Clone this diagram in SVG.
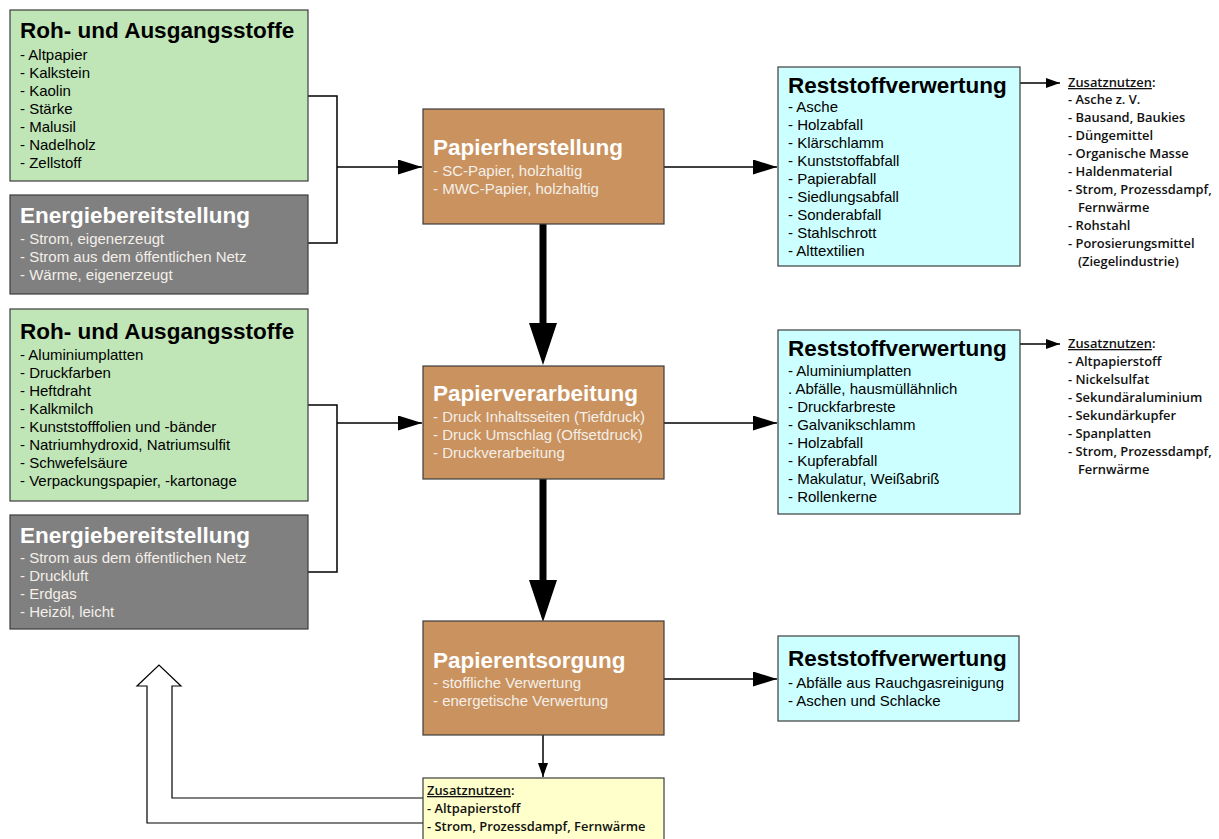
<svg xmlns="http://www.w3.org/2000/svg" width="1219" height="839" viewBox="0 0 1219 839">
  <style>
    .box { stroke: #3c3c3c; stroke-width: 1.2; }
    .raw { fill: #c0e6b8; }
    .energy { fill: #808080; }
    .process { fill: #c9925e; }
    .residue { fill: #ccffff; }
    .benefit { fill: #ffffcc; }
    .title { font-family: "Liberation Sans", Arial, sans-serif; font-weight: bold; font-size: 22.5px; }
    .item { font-family: "Liberation Sans", Arial, sans-serif; font-size: 15px; }
    .dark { fill: #000; }
    .light { fill: #fff; }
    .lightitem { fill: #f4efe9; }
    .note { font-family: "Open Sans", "DejaVu Sans", sans-serif; font-weight: 600; font-size: 12.9px; fill: #111; }
    .ul { text-decoration: underline; }
    .wire { fill: none; stroke: #000; stroke-width: 1.5; }
    .thick { fill: none; stroke: #000; stroke-width: 7; }
  </style>
  <defs>
    <marker id="head" markerUnits="userSpaceOnUse" markerWidth="24" markerHeight="15" refX="24" refY="7.5" orient="auto">
      <path d="M0,0 L24,7.5 L0,15 Z" fill="#000"/>
    </marker>
    <marker id="headSmall" markerUnits="userSpaceOnUse" markerWidth="14" markerHeight="10" refX="14" refY="5" orient="auto">
      <path d="M0,0 L14,5 L0,10 Z" fill="#000"/>
    </marker>
    <marker id="headBig" markerUnits="userSpaceOnUse" markerWidth="42" markerHeight="28" refX="0" refY="14" orient="auto">
      <path d="M0,0 L42,14 L0,28 Z" fill="#000"/>
    </marker>
  </defs>

  <!-- connectors -->
  <g id="connectors">
    <!-- inputs to Papierherstellung -->
    <polyline class="wire" points="308,96 337,96 337,243 308,243"/>
    <line class="wire" x1="337" y1="167" x2="422" y2="167" marker-end="url(#head)"/>
    <!-- inputs to Papierverarbeitung -->
    <polyline class="wire" points="308,405 337,405 337,572 308,572"/>
    <line class="wire" x1="337" y1="423" x2="422" y2="423" marker-end="url(#head)"/>
    <!-- main flow -->
    <line class="thick" x1="543" y1="224" x2="543" y2="323" marker-end="url(#headBig)"/>
    <line class="thick" x1="543" y1="479" x2="543" y2="580" marker-end="url(#headBig)"/>
    <!-- to residue utilisation -->
    <line class="wire" x1="664" y1="167" x2="777" y2="167" marker-end="url(#head)"/>
    <line class="wire" x1="664" y1="423" x2="777" y2="423" marker-end="url(#head)"/>
    <line class="wire" x1="664" y1="679" x2="777" y2="679" marker-end="url(#head)"/>
    <!-- to additional benefits -->
    <line class="wire" x1="1020" y1="83" x2="1060" y2="83" marker-end="url(#headSmall)"/>
    <line class="wire" x1="1020" y1="344" x2="1060" y2="344" marker-end="url(#headSmall)"/>
    <line class="wire" x1="543" y1="735" x2="543" y2="777" marker-end="url(#headSmall)"/>
    <!-- recycling loop back to inputs -->
    <path d="M423,798 L172,798 L172,686 L181,686 L159,665 L137,686 L147,686 L147,823 L423,823" fill="#fff" stroke="#000" stroke-width="1.2"/>
  </g>

  <!-- input materials, production -->
  <g id="raw-production">
    <rect class="box raw" x="10" y="10" width="298" height="171"/>
    <text class="title dark" x="20" y="38">Roh- und Ausgangsstoffe</text>
    <text class="item dark">
      <tspan x="20" y="60">- Altpapier</tspan>
      <tspan x="20" y="78">- Kalkstein</tspan>
      <tspan x="20" y="96">- Kaolin</tspan>
      <tspan x="20" y="114">- Stärke</tspan>
      <tspan x="20" y="132">- Malusil</tspan>
      <tspan x="20" y="150">- Nadelholz</tspan>
      <tspan x="20" y="168">- Zellstoff</tspan>
    </text>
  </g>

  <!-- energy supply, production -->
  <g id="energy-production">
    <rect class="box energy" x="10" y="195" width="298" height="99"/>
    <text class="title light" x="20" y="223">Energiebereitstellung</text>
    <text class="item lightitem">
      <tspan x="20" y="244">- Strom, eigenerzeugt</tspan>
      <tspan x="20" y="262">- Strom aus dem öffentlichen Netz</tspan>
      <tspan x="20" y="280">- Wärme, eigenerzeugt</tspan>
    </text>
  </g>

  <!-- input materials, processing -->
  <g id="raw-processing">
    <rect class="box raw" x="10" y="309" width="298" height="192"/>
    <text class="title dark" x="20" y="339">Roh- und Ausgangsstoffe</text>
    <text class="item dark">
      <tspan x="20" y="360">- Aluminiumplatten</tspan>
      <tspan x="20" y="378">- Druckfarben</tspan>
      <tspan x="20" y="396">- Heftdraht</tspan>
      <tspan x="20" y="414">- Kalkmilch</tspan>
      <tspan x="20" y="432">- Kunststofffolien und -bänder</tspan>
      <tspan x="20" y="450">- Natriumhydroxid, Natriumsulfit</tspan>
      <tspan x="20" y="468">- Schwefelsäure</tspan>
      <tspan x="20" y="486">- Verpackungspapier, -kartonage</tspan>
    </text>
  </g>

  <!-- energy supply, processing -->
  <g id="energy-processing">
    <rect class="box energy" x="10" y="515" width="298" height="114"/>
    <text class="title light" x="20" y="543">Energiebereitstellung</text>
    <text class="item lightitem">
      <tspan x="20" y="563">- Strom aus dem öffentlichen Netz</tspan>
      <tspan x="20" y="581">- Druckluft</tspan>
      <tspan x="20" y="599">- Erdgas</tspan>
      <tspan x="20" y="617">- Heizöl, leicht</tspan>
    </text>
  </g>

  <!-- main process steps -->
  <g id="papierherstellung">
    <rect class="box process" x="423" y="109" width="241" height="115"/>
    <text class="title light" x="433" y="155">Papierherstellung</text>
    <text class="item lightitem">
      <tspan x="433" y="176">- SC-Papier, holzhaltig</tspan>
      <tspan x="433" y="194">- MWC-Papier, holzhaltig</tspan>
    </text>
  </g>

  <g id="papierverarbeitung">
    <rect class="box process" x="423" y="366" width="241" height="113"/>
    <text class="title light" x="433" y="401">Papierverarbeitung</text>
    <text class="item lightitem">
      <tspan x="433" y="422">- Druck Inhaltsseiten (Tiefdruck)</tspan>
      <tspan x="433" y="440">- Druck Umschlag (Offsetdruck)</tspan>
      <tspan x="433" y="458">- Druckverarbeitung</tspan>
    </text>
  </g>

  <g id="papierentsorgung">
    <rect class="box process" x="423" y="621" width="241" height="114"/>
    <text class="title light" x="433" y="668">Papierentsorgung</text>
    <text class="item lightitem">
      <tspan x="433" y="688">- stoffliche Verwertung</tspan>
      <tspan x="433" y="706">- energetische Verwertung</tspan>
    </text>
  </g>

  <!-- residue utilisation -->
  <g id="reststoff-herstellung">
    <rect class="box residue" x="778" y="67" width="242" height="199"/>
    <text class="title dark" x="788" y="93">Reststoffverwertung</text>
    <text class="item dark">
      <tspan x="788" y="112">- Asche</tspan>
      <tspan x="788" y="130">- Holzabfall</tspan>
      <tspan x="788" y="148">- Klärschlamm</tspan>
      <tspan x="788" y="166">- Kunststoffabfall</tspan>
      <tspan x="788" y="184">- Papierabfall</tspan>
      <tspan x="788" y="202">- Siedlungsabfall</tspan>
      <tspan x="788" y="220">- Sonderabfall</tspan>
      <tspan x="788" y="238">- Stahlschrott</tspan>
      <tspan x="788" y="256">- Alttextilien</tspan>
    </text>
  </g>

  <g id="reststoff-verarbeitung">
    <rect class="box residue" x="778" y="330" width="242" height="184"/>
    <text class="title dark" x="788" y="356">Reststoffverwertung</text>
    <text class="item dark">
      <tspan x="788" y="376">- Aluminiumplatten</tspan>
      <tspan x="788" y="394">. Abfälle, hausmüllähnlich</tspan>
      <tspan x="788" y="412">- Druckfarbreste</tspan>
      <tspan x="788" y="430">- Galvanikschlamm</tspan>
      <tspan x="788" y="448">- Holzabfall</tspan>
      <tspan x="788" y="466">- Kupferabfall</tspan>
      <tspan x="788" y="484">- Makulatur, Weißabriß</tspan>
      <tspan x="788" y="502">- Rollenkerne</tspan>
    </text>
  </g>

  <g id="reststoff-entsorgung">
    <rect class="box residue" x="778" y="636" width="241" height="85"/>
    <text class="title dark" x="788" y="666">Reststoffverwertung</text>
    <text class="item dark">
      <tspan x="788" y="688">- Abfälle aus Rauchgasreinigung</tspan>
      <tspan x="788" y="706">- Aschen und Schlacke</tspan>
    </text>
  </g>

  <!-- additional benefits -->
  <g id="nutzen-herstellung">
    <text class="note">
      <tspan x="1068" y="87"><tspan class="ul">Zusatznutzen</tspan>:</tspan>
      <tspan x="1068" y="104">- Asche z. V.</tspan>
      <tspan x="1068" y="122">- Bausand, Baukies</tspan>
      <tspan x="1068" y="140">- Düngemittel</tspan>
      <tspan x="1068" y="158">- Organische Masse</tspan>
      <tspan x="1068" y="176">- Haldenmaterial</tspan>
      <tspan x="1068" y="194">- Strom, Prozessdampf,</tspan>
      <tspan x="1078" y="212">Fernwärme</tspan>
      <tspan x="1068" y="230">- Rohstahl</tspan>
      <tspan x="1068" y="248">- Porosierungsmittel</tspan>
      <tspan x="1078" y="266">(Ziegelindustrie)</tspan>
    </text>
  </g>

  <g id="nutzen-verarbeitung">
    <text class="note">
      <tspan x="1068" y="348"><tspan class="ul">Zusatznutzen</tspan>:</tspan>
      <tspan x="1068" y="366">- Altpapierstoff</tspan>
      <tspan x="1068" y="384">- Nickelsulfat</tspan>
      <tspan x="1068" y="402">- Sekundäraluminium</tspan>
      <tspan x="1068" y="420">- Sekundärkupfer</tspan>
      <tspan x="1068" y="438">- Spanplatten</tspan>
      <tspan x="1068" y="456">- Strom, Prozessdampf,</tspan>
      <tspan x="1078" y="474">Fernwärme</tspan>
    </text>
  </g>

  <g id="nutzen-entsorgung">
    <rect class="box benefit" x="423" y="778" width="241" height="70"/>
    <text class="note">
      <tspan x="427" y="795"><tspan class="ul">Zusatznutzen</tspan>:</tspan>
      <tspan x="427" y="813">- Altpapierstoff</tspan>
      <tspan x="427" y="831">- Strom, Prozessdampf, Fernwärme</tspan>
    </text>
  </g>
</svg>
